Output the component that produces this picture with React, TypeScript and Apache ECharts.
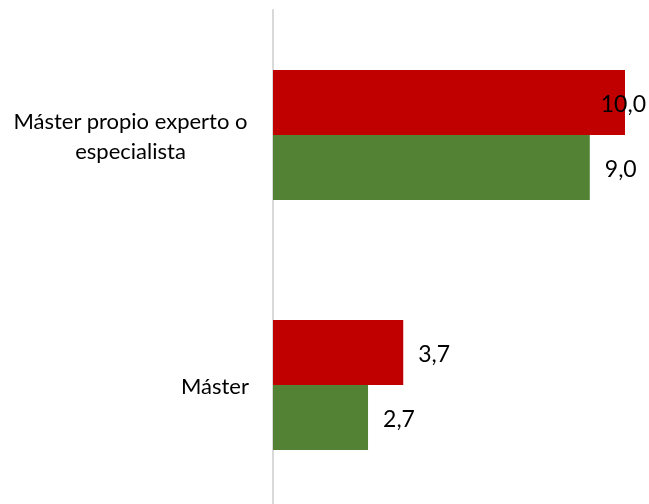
import React, { useEffect, useRef } from "react";
import * as echarts from "echarts";

const categories = ["Máster propio experto o\nespecialista", "Máster"];
const redValues = [10.0, 3.7];
const greenValues = [9.0, 2.7];

const FONT = "Lato";

export default function App() {
  const ref = useRef<HTMLDivElement>(null);
  useEffect(() => {
    if (!ref.current) return;
    const chart = echarts.init(ref.current, null, { renderer: "svg" });
    const fmt = (p: any) => Number(p.value).toFixed(1).replace(".", ",");
    const labelBase = {
      show: true,
      position: "right" as const,
      distance: 15,
      color: "#000",
      fontFamily: FONT,
      fontSize: 23,
      formatter: fmt,
    };
    chart.setOption({
      animation: false,
      grid: { left: 273, right: 24, top: 10, bottom: 0, containLabel: false },
      xAxis: {
        type: "value",
        min: 0,
        max: 10,
        show: false,
      },
      yAxis: {
        type: "category",
        inverse: true,
        data: categories,
        axisLine: { show: true, lineStyle: { color: "#d9d9d9", width: 2 } },
        axisTick: { show: false },
        splitLine: { show: false },
        axisLabel: {
          margin: 24,
          color: "#000",
          fontFamily: FONT,
          fontSize: 22,
          formatter: (v: string) =>
            v.includes("\n")
              ? v
                  .split("\n")
                  .map((l) => `{c|${l}}`)
                  .join("\n")
              : `{r|${v}}`,
          rich: {
            c: { width: 237, align: "center", fontFamily: FONT, fontSize: 22, lineHeight: 30, color: "#000" },
            r: { fontFamily: FONT, fontSize: 22, lineHeight: 30, color: "#000" },
          },
        },
      },
      series: [
        {
          type: "bar",
          name: "A",
          barWidth: 65,
          barGap: "0%",
          itemStyle: { color: "#C00000" },
          label: labelBase,
          data: redValues.map((v, i) =>
            i === 0
              ? { value: v, label: { position: "insideRight", distance: 0, offset: [21, 0] } }
              : { value: v }
          ),
        },
        {
          type: "bar",
          name: "B",
          barWidth: 65,
          barGap: "0%",
          itemStyle: { color: "#548235" },
          label: labelBase,
          data: greenValues,
        },
      ],
    });
    return () => chart.dispose();
  }, []);
  return (
    <div style={{ position: "fixed", left: 0, top: 0, width: 649, height: 504, overflow: "hidden" }}>
      <div ref={ref} style={{ width: 649, height: 510 }} />
    </div>
  );
}
